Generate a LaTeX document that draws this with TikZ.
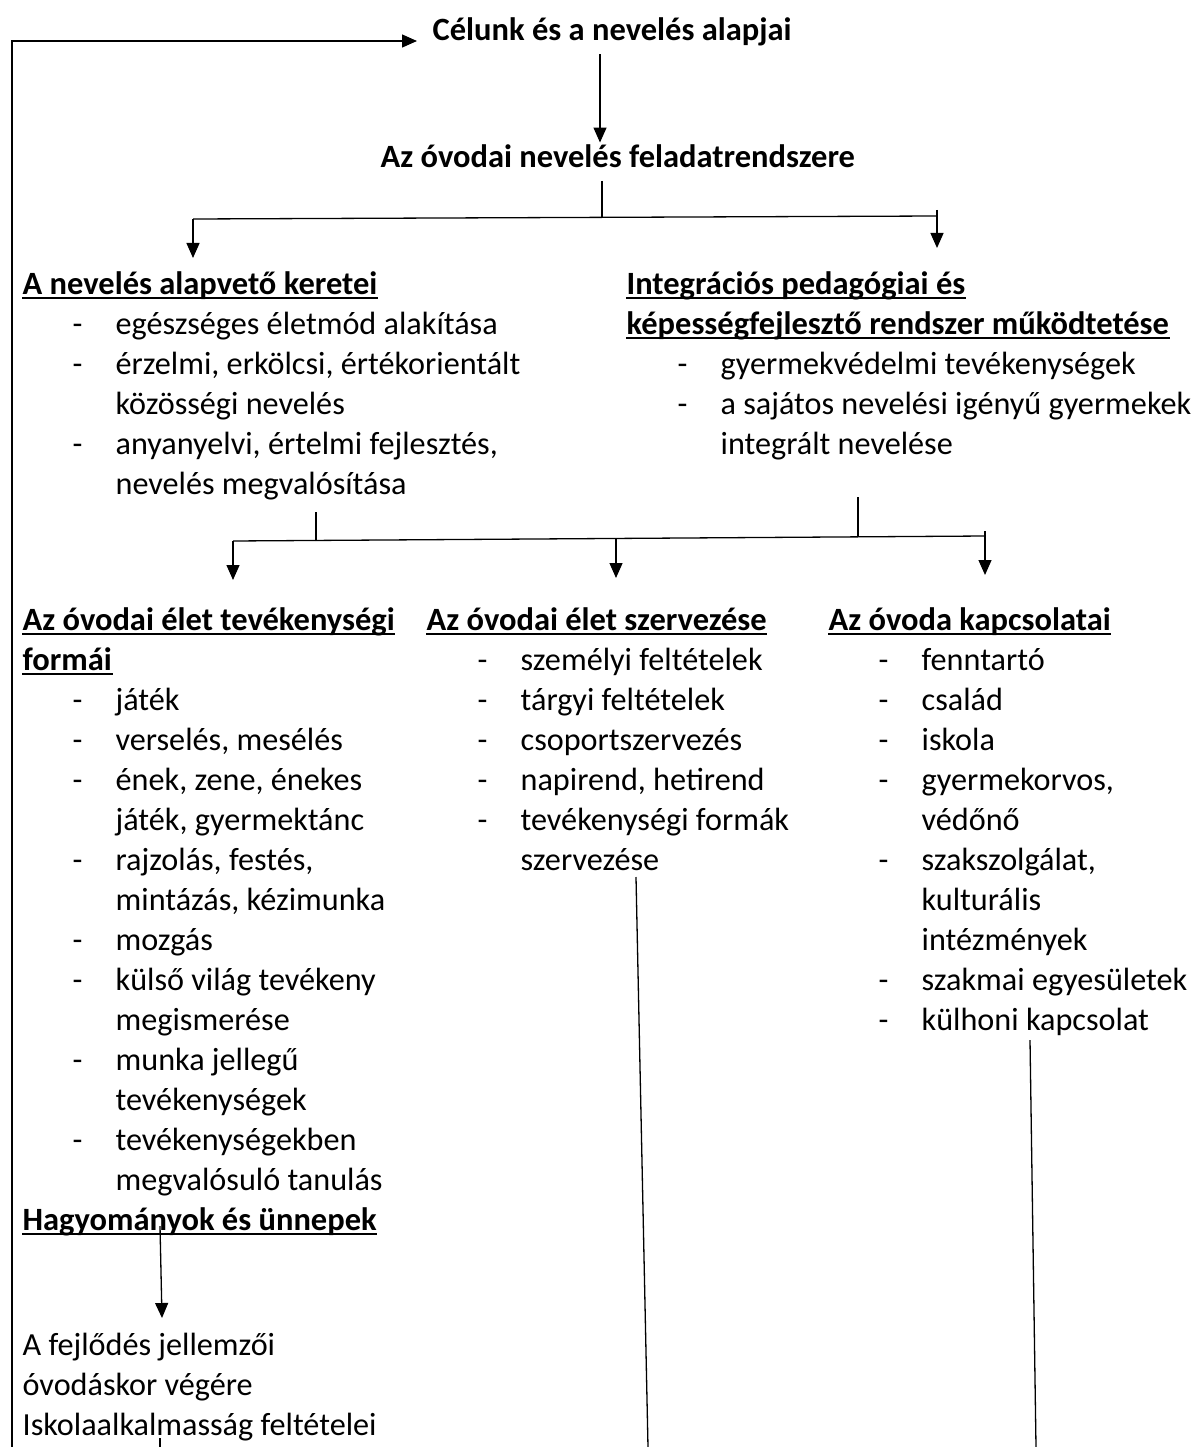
\documentclass[tikz,border=0pt]{standalone}
\usepackage{fontspec}
\setmainfont{Carlito}
\usetikzlibrary{arrows.meta}
\newcommand\itm[1]{\makebox[43pt][l]{-}#1}
\newcommand\itmc[1]{\hspace*{43pt}#1}

\begin{document}
\begin{tikzpicture}[x=1pt, y=-1pt, line width=1.3pt,
  every node/.style={inner sep=0pt, anchor=base west, font=\fontsize{32.2}{40}\selectfont},
  cim/.style={font=\fontsize{32.5}{40}\selectfont\bfseries},
  hd/.style={cim, append after command={([yshift=-4pt]\tikzlastnode.base west) edge[draw, line width=2.2pt] ([yshift=-4pt]\tikzlastnode.base east)}},
  lst/.style={text width=700pt, align=flush left},
  arr/.style={-{Triangle[length=15pt,width=13pt]}}]
\useasboundingbox (0,0) rectangle (1197,1447);
% titles
\node[cim] (cel) at (432,41) {Célunk és a nevelés alapjai};
\node[cim] (ovo) at (380,168) {Az óvodai nevelés feladatrendszere};
% second row
\node[hd] (kt) at (22,294) {A nevelés alapvető keretei};
\node[lst] (ktl) at (72,334) {\itm{egészséges életmód alakítása}\\ \itm{érzelmi, erkölcsi, értékorientált}\\ \itmc{közösségi nevelés}\\ \itm{anyanyelvi, értelmi fejlesztés,}\\ \itmc{nevelés megvalósítása}};
\node[hd] (int1) at (626,294) {Integrációs pedagógiai és};
\node[hd] (int2) at (626,334) {képességfejlesztő rendszer működtetése};
\node[lst] (intl) at (677,374) {\itm{gyermekvédelmi tevékenységek}\\ \itm{a sajátos nevelési igényű gyermekek}\\ \itmc{integrált nevelése}};
% third row
\node[hd] (tf1) at (22,630) {Az óvodai élet tevékenységi};
\node[hd] (tf2) at (22,670) {formái};
\node[lst] (tfl) at (72,710) {\itm{játék}\\ \itm{verselés, mesélés}\\ \itm{ének, zene, énekes}\\ \itmc{játék, gyermektánc}\\ \itm{rajzolás, festés,}\\ \itmc{mintázás, kézimunka}\\ \itm{mozgás}\\ \itm{külső világ tevékeny}\\ \itmc{megismerése}\\ \itm{munka jellegű}\\ \itmc{tevékenységek}\\ \itm{tevékenységekben}\\ \itmc{megvalósuló tanulás}};
\node[hd] (sz) at (426,630) {Az óvodai élet szervezése};
\node[lst] (szl) at (477,670) {\itm{személyi feltételek}\\ \itm{tárgyi feltételek}\\ \itm{csoportszervezés}\\ \itm{napirend, hetirend}\\ \itm{tevékenységi formák}\\ \itmc{szervezése}};
\node[hd] (kp) at (828,630) {Az óvoda kapcsolatai};
\node[lst] (kpl) at (878,670) {\itm{fenntartó}\\ \itm{család}\\ \itm{iskola}\\ \itm{gyermekorvos,}\\ \itmc{védőnő}\\ \itm{szakszolgálat,}\\ \itmc{kulturális}\\ \itmc{intézmények}\\ \itm{szakmai egyesületek}\\ \itm{külhoni kapcsolat}};
% bottom
\node[hd] (hu) at (22,1230) {Hagyományok és ünnepek};
\node[lst] (fj) at (22,1355) {A fejlődés jellemzői\\ óvodáskor végére\\ Iskolaalkalmasság feltételei};
% free ends
\coordinate (fr) at (12,1447);
\coordinate (p1) at (600,0);
\coordinate (b1) at (602,218);
\coordinate (b1l) at (193,219);
\coordinate (b1r) at (937,216);
\coordinate (c1) at (316,541);
\coordinate (c2) at (858,537);
\coordinate (b2l) at (233,541);
\coordinate (b2m) at (616,539);
\coordinate (b2r) at (985,536);
\coordinate (d1) at (160,1226);
\coordinate (d2) at (160,1447);
\coordinate (e1) at (648,1447);
\coordinate (e2) at (1036,1447);
% connectors
\draw[arr, shorten >=15pt] (fr) |- (cel.base west);
\draw[arr, shorten <=7pt, shorten >=2pt] (p1 |- cel.south) -- (p1 |- ovo.north);
\draw[shorten <=12pt] (ovo.south -| b1) -- (b1);
\draw (b1l) -- (b1r);
\draw[arr] (b1l) -- ++(0,39);
\draw[arr] ([yshift=6pt]b1r) -- ++(0,38);
\draw (c1) -- ++(0,-29);
\draw (c2) -- ++(0,-40);
\draw (b2l) -- (b2r);
\draw[arr] (b2l) -- ++(0,39);
\draw[arr] (b2m) -- ++(0,39);
\draw[arr] ([yshift=5pt]b2r) -- ++(0,44);
\draw[arr] (d1) -- ++(2,92);
\draw (d2) -- ++(0,-9);
\draw (e1) -- ++(-12,-570);
\draw (e2) -- ++(-6,-407);
\end{tikzpicture}
\end{document}
